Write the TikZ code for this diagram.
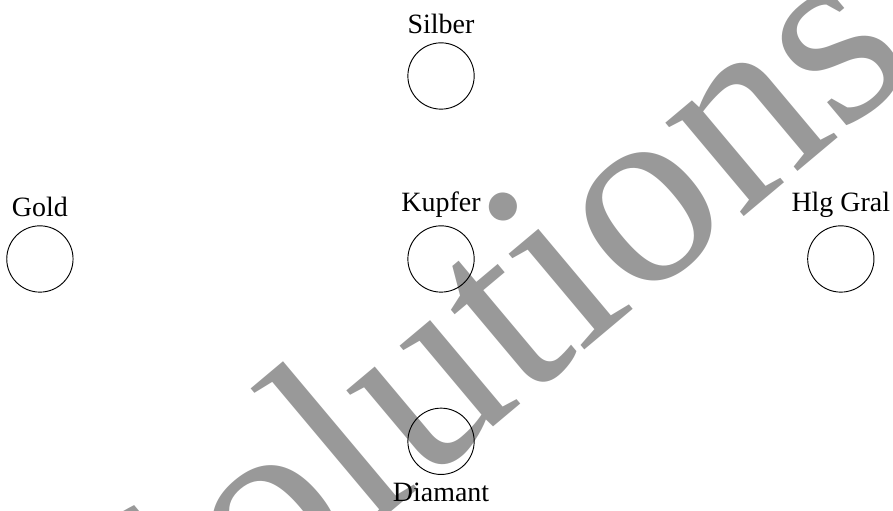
\documentclass[tikz,border=0pt]{standalone}
\usepackage{fontspec}
\setmainfont{Liberation Serif}
\definecolor{wmgray}{gray}{0.6}
\begin{document}
\begin{tikzpicture}[font=\fontsize{12}{14.4}\selectfont,
    metal/.style={draw, circle, minimum size=1cm, inner sep=0pt}]
  \useasboundingbox (-6.652,-3.801) rectangle (6.817,3.906);
  \clip (-6.652,-3.801) rectangle (6.817,3.906);
  % watermark behind the circles
  \node[rotate=40, anchor=base west, inner sep=0pt, text=wmgray, font=\fontsize{114}{114}\selectfont] (wm) at (-4.38,-6.87) {Solutions};
  \node[metal, label=above:Silber] (silber) at (0,2.76) {};
  \node[metal, label=above:Gold] (gold) at (-6.05,0) {};
  \node[metal, label=above:Kupfer] (kupfer) at (0,0) {};
  \node[metal, label=above:Hlg Gral] (gral) at (6.03,0) {};
  \node[metal, label=below:Diamant] (diamant) at (0,-2.75) {};
\end{tikzpicture}
\end{document}
